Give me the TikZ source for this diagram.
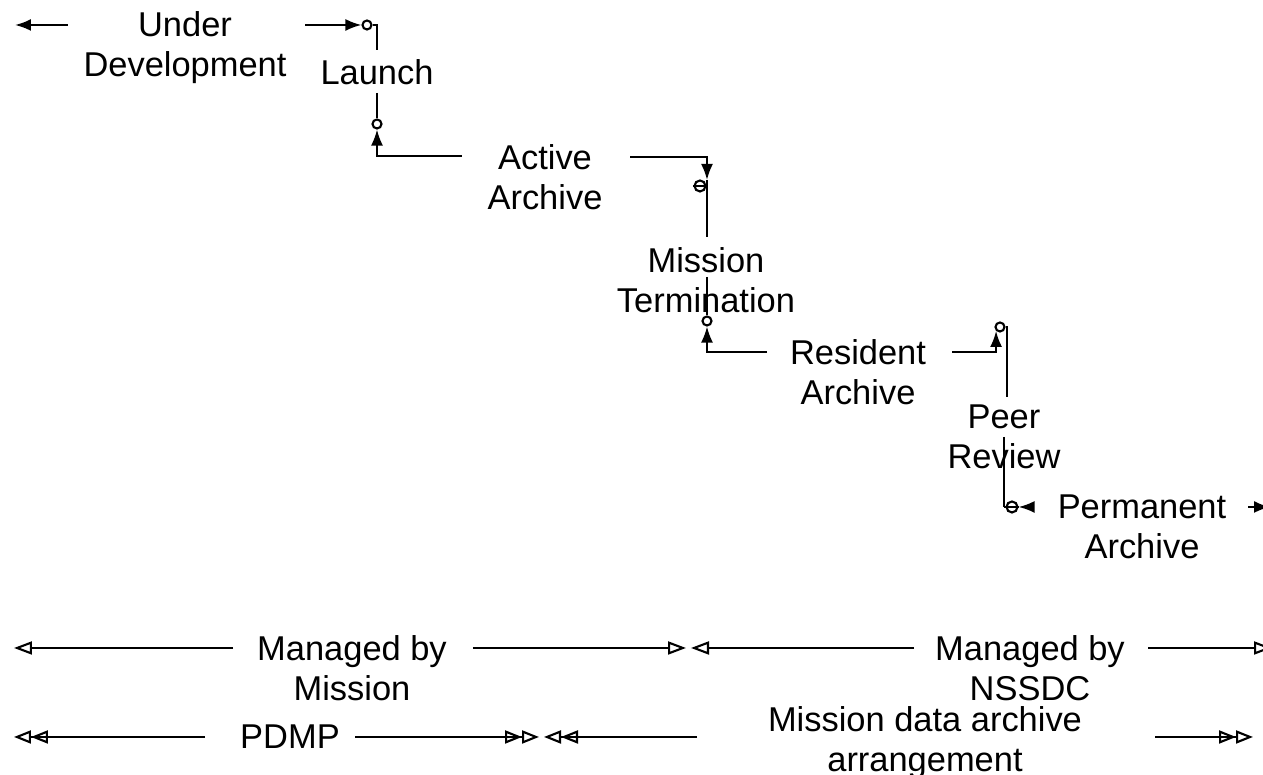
\documentclass[tikz,border=0pt]{standalone}
\usepackage{fontspec}
\setmainfont{Liberation Sans}
\usetikzlibrary{arrows.meta}

\begin{document}
\begin{tikzpicture}[
  lbl/.style={align=center,inner sep=0pt,font=\fontsize{9.8}{11.4}\selectfont},
  dot/.style={draw,circle,fill=white,inner sep=0pt,minimum size=0.09cm},
  tip/.style={-{Latex[length=1.6mm,width=1.2mm]}},
  opentip/.style={-{Triangle[open,length=1.8mm,width=1.3mm]}},
  dbltip/.style={-{Triangle[open,length=1.7mm,width=1.3mm,sep=0pt]Triangle[open,length=1.7mm,width=1.3mm]}},
  line width=0.6pt]
\clip (0,0) rectangle (12.63,-7.75);

% phases
\node[lbl] (dev) at (1.85,-0.48) {Under\\Development};
\node[lbl] (launch) at (3.77,-0.72) {Launch};
\node[lbl] (active) at (5.45,-1.77) {Active\\Archive};
\node[lbl] (term) at (7.06,-2.80) {Mission\\Termination};
\node[lbl] (res) at (8.58,-3.72) {Resident\\Archive};
\node[lbl] (peer) at (10.04,-4.37) {Peer\\Review};
\node[lbl] (perm) at (11.42,-5.27) {Permanent\\Archive};

% responsibility spans
\node[lbl] (mgdm) at (3.52,-6.68) {Managed by\\Mission};
\node[lbl] (mgdn) at (10.30,-6.68) {Managed by\\NSSDC};
\node[lbl] (pdmp) at (2.90,-7.37) {PDMP};
\node[lbl] (mdaa) at (9.25,-7.43) {Mission data archive\\arrangement};

% line ends
\coordinate (devW) at (0.68,-0.25);
\coordinate (devX) at (0.15,-0.25);
\coordinate (devE) at (3.05,-0.25);
\coordinate (launchN) at (3.77,-0.50);
\coordinate (launchS) at (3.77,-0.93);
\coordinate (actW) at (4.62,-1.56);
\coordinate (actE) at (6.30,-1.57);
\coordinate (k3) at (7.07,-1.80);
\coordinate (termN) at (7.07,-2.37);
\coordinate (termS) at (7.07,-2.77);
\coordinate (resW) at (7.67,-3.52);
\coordinate (resE) at (9.52,-3.52);
\coordinate (peerN) at (10.07,-3.97);
\coordinate (peerS) at (10.04,-4.37);
\coordinate (k6) at (10.04,-5.07);
\coordinate (permW) at (10.33,-5.07);
\coordinate (permE) at (12.48,-5.07);
\coordinate (permX) at (12.70,-5.07);

% markers
\node[dot] (c1) at (3.67,-0.25) {};
\node[dot] (c2) at (3.77,-1.24) {};
\node[dot,minimum size=0.11cm] (c3) at (7.00,-1.86) {};
\node[dot] (c4) at (7.07,-3.21) {};
\node[dot] (c5) at (10.00,-3.27) {};

% timeline
\draw[tip] (devW) -- (devX);
\draw[tip] (devE) -- (c1.west);
\draw (c1.east) -| (launchN);
\draw (launchS) -- (c2.north);
\draw[tip] (actW) -| (c2.south);
\draw[tip] (actE) -| (k3);
\draw (k3) -- (termN);
\draw (c3.west) -- (c3.east);
\draw (termS) -- (c4.north);
\draw[tip] (resW) -| (c4.south);
\draw[tip] (resE) -| (c5.south west);
\draw (c5.east) -| (peerN);
\draw (peerS) -- (k6);
\node[dot,minimum size=0.11cm] (c6) at (10.12,-5.07) {};
\draw (k6) -- (c6.east);
\draw[tip] (permW) -- (c6.east);
\draw[tip] (permE) -- (permX);

% spans, row 1
\coordinate (mmL) at (2.33,-6.48);
\coordinate (mmX) at (0.14,-6.48);
\coordinate (mmR) at (4.73,-6.48);
\coordinate (mmY) at (6.86,-6.48);
\coordinate (mnL) at (9.14,-6.48);
\coordinate (mnX) at (6.91,-6.48);
\coordinate (mnR) at (11.48,-6.48);
\coordinate (mnY) at (12.72,-6.48);
\draw[opentip] (mmL) -- (mmX);
\draw[opentip] (mmR) -- (mmY);
\draw[opentip] (mnL) -- (mnX);
\draw[opentip] (mnR) -- (mnY);

% spans, row 2
\coordinate (pdL) at (2.05,-7.37);
\coordinate (pdX) at (0.14,-7.37);
\coordinate (pdR) at (3.55,-7.37);
\coordinate (pdY) at (5.39,-7.37);
\coordinate (maL) at (6.97,-7.37);
\coordinate (maX) at (5.44,-7.37);
\coordinate (maR) at (11.55,-7.37);
\coordinate (maY) at (12.53,-7.37);
\draw[dbltip] (pdL) -- (pdX);
\draw[dbltip] (pdR) -- (pdY);
\draw[dbltip] (maL) -- (maX);
\draw[dbltip] (maR) -- (maY);

\end{tikzpicture}
\end{document}
